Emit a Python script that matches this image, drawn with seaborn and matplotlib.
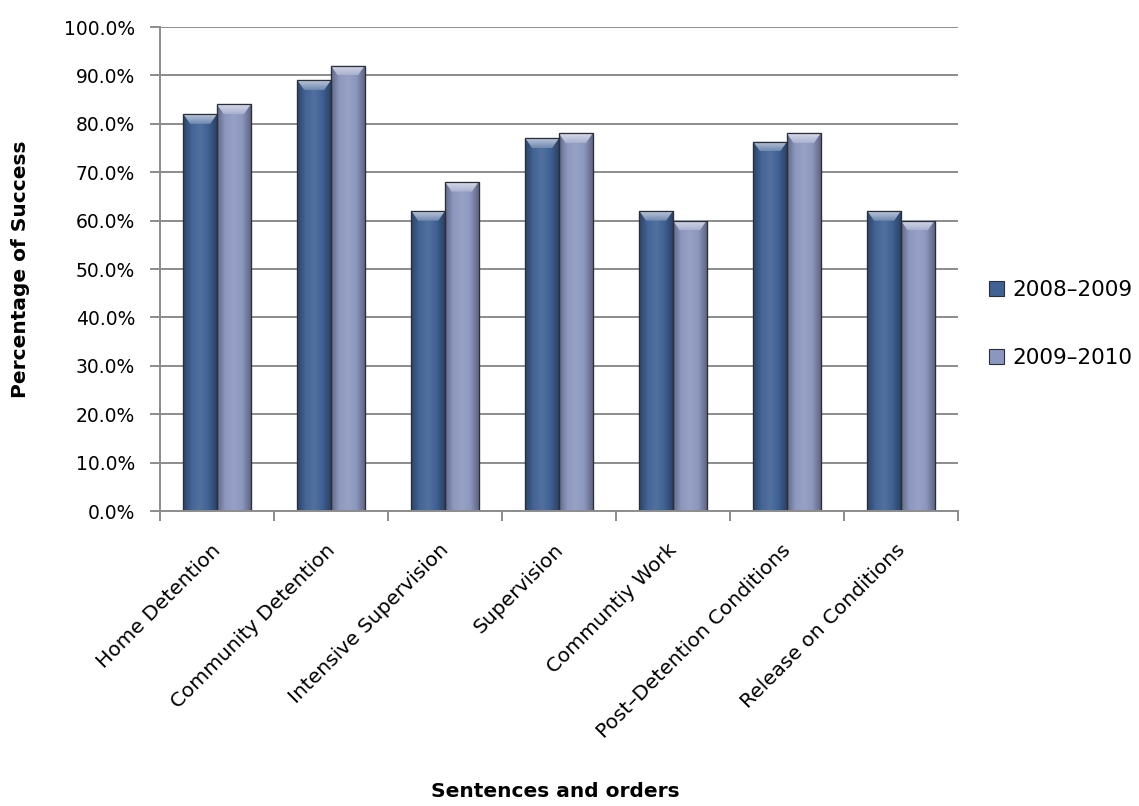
import numpy as np
import pandas as pd
import matplotlib
matplotlib.use("Agg")
import matplotlib.pyplot as plt
import matplotlib.colors as mcolors
import matplotlib.transforms as mtransforms
from matplotlib.patches import Polygon
import seaborn as sns

categories = ["Home Detention", "Community Detention", "Intensive Supervision",
              "Supervision", "Communtiy Work", "Post\u2013Detention Conditions",
              "Release on Conditions"]
series_names = ["2008\u20132009", "2009\u20132010"]
values_2008_2009 = [82, 89, 62, 77, 62, 76.3, 62]
values_2009_2010 = [84, 92, 68, 78, 60, 78, 60]
y_ticks = [0, 10, 20, 30, 40, 50, 60, 70, 80, 90, 100]

base_colors = {series_names[0]: "#3f6194", series_names[1]: "#8c97bf"}

df = pd.DataFrame({
    "category": categories * 2,
    "period": [series_names[0]] * len(categories) + [series_names[1]] * len(categories),
    "value": values_2008_2009 + values_2009_2010,
})

sns.set_theme(style="white")
plt.rcParams["font.family"] = ["DejaVu Sans"]
plt.rcParams["text.color"] = "black"
plt.rcParams["axes.labelcolor"] = "black"
plt.rcParams["xtick.color"] = "black"
plt.rcParams["ytick.color"] = "black"

fig = plt.figure(figsize=(11.39, 8.06), dpi=100)
ax = fig.add_axes([0.1405, 0.366, 0.7005, 0.6005])

sns.barplot(data=df, x="category", y="value", hue="period",
            palette=base_colors, width=0.59, ax=ax, legend=False,
            edgecolor="#2b2f3a", linewidth=0.8, saturation=1)


def shade(color, f):
    r, g, b = mcolors.to_rgb(color)
    if f >= 0:
        return (r + (1 - r) * f, g + (1 - g) * f, b + (1 - b) * f)
    return (r * (1 + f), g * (1 + f), b * (1 + f))


# horizontal gradient and bevelled top on every bar
n = len(categories)
for i, patch in enumerate(ax.patches[: 2 * n]):
    col = base_colors[series_names[i // n]]
    x0, y0 = patch.get_x(), patch.get_y()
    w, h = patch.get_width(), patch.get_height()
    z = patch.get_zorder()
    cmap = mcolors.LinearSegmentedColormap.from_list(
        "body", [shade(col, -0.3), shade(col, 0.02), shade(col, 0.1),
                 shade(col, 0.0), shade(col, -0.32)])
    grad = np.linspace(0, 1, 64).reshape(1, -1)
    im = ax.imshow(grad, cmap=cmap, extent=[x0, x0 + w, y0, y0 + h],
                   aspect="auto", zorder=z + 0.1, interpolation="bicubic")
    im.set_clip_path(patch)
    # bevel: a lighter trapezoid along the top edge
    bevel = 2.0
    top = y0 + h
    tri = Polygon([[x0, top], [x0 + w, top], [x0 + w * 0.8, top - bevel],
                   [x0 + w * 0.2, top - bevel]], closed=True,
                  facecolor="none", edgecolor="none", zorder=z + 0.2)
    ax.add_patch(tri)
    bcmap = mcolors.LinearSegmentedColormap.from_list(
        "bevel", [shade(col, 0.25), shade(col, 0.65)])
    bgrad = np.linspace(0, 1, 32).reshape(-1, 1)
    bim = ax.imshow(bgrad, cmap=bcmap, extent=[x0, x0 + w, top - bevel, top],
                    origin="lower", aspect="auto", zorder=z + 0.2,
                    interpolation="bicubic")
    bim.set_clip_path(tri)
    outline = plt.Rectangle((x0, y0), w, h, fill=False, edgecolor="#2b2f3a",
                            linewidth=0.9, zorder=z + 0.3)
    ax.add_patch(outline)

ax.set_xlim(-0.5, n - 0.5)
ax.set_ylim(0, 100)
ax.set_yticks(y_ticks)
ax.set_yticklabels([f"{t:.1f}%" for t in y_ticks], fontsize=13.5)
ax.yaxis.grid(True, color="#8c8c8c", linewidth=1.4)
ax.set_axisbelow(True)

# category boundaries carry the x ticks
ax.set_xticks(np.arange(-0.5, n, 1.0), minor=False)
ax.set_xticklabels([])
ax.set_xticks(np.arange(n), minor=True)
ax.set_xticklabels(categories, minor=True, rotation=45, ha="right", va="center",
                   rotation_mode="anchor", fontsize=14.5)
ax.tick_params(axis="x", which="major", direction="out", length=7, width=1.4,
               color="#8c8c8c", bottom=True)
ax.tick_params(axis="x", which="minor", length=0, pad=26)
ax.tick_params(axis="y", direction="out", length=7, width=1.4, color="#8c8c8c",
               left=True, pad=11)
shift = mtransforms.ScaledTranslation(0.01, 0, fig.dpi_scale_trans)
for lbl in ax.get_xticklabels(minor=True):
    lbl.set_transform(lbl.get_transform() + shift)

for s in ["top", "right"]:
    ax.spines[s].set_visible(False)
for s in ["left", "bottom"]:
    ax.spines[s].set_color("#8c8c8c")
    ax.spines[s].set_linewidth(1.4)

ax.set_xlabel("Sentences and orders", fontsize=14.5, fontweight="bold")
ax.xaxis.set_label_coords(0.496, -0.56)
ax.set_ylabel("Percentage of Success", fontsize=14.5, fontweight="bold")
ax.yaxis.set_label_coords(-0.163, 0.5)

handles = [plt.Rectangle((0, 0), 1, 1, facecolor=base_colors[s], edgecolor="#2b2f3a",
                         linewidth=0.8) for s in series_names]
fig.legend(handles, series_names,
           loc="center left", bbox_to_anchor=(0.851, 0.598), frameon=False,
           fontsize=15.5, handlelength=0.7, handleheight=0.7, handletextpad=0.4,
           labelspacing=2.25)

fig.savefig("out.png", dpi=100)
